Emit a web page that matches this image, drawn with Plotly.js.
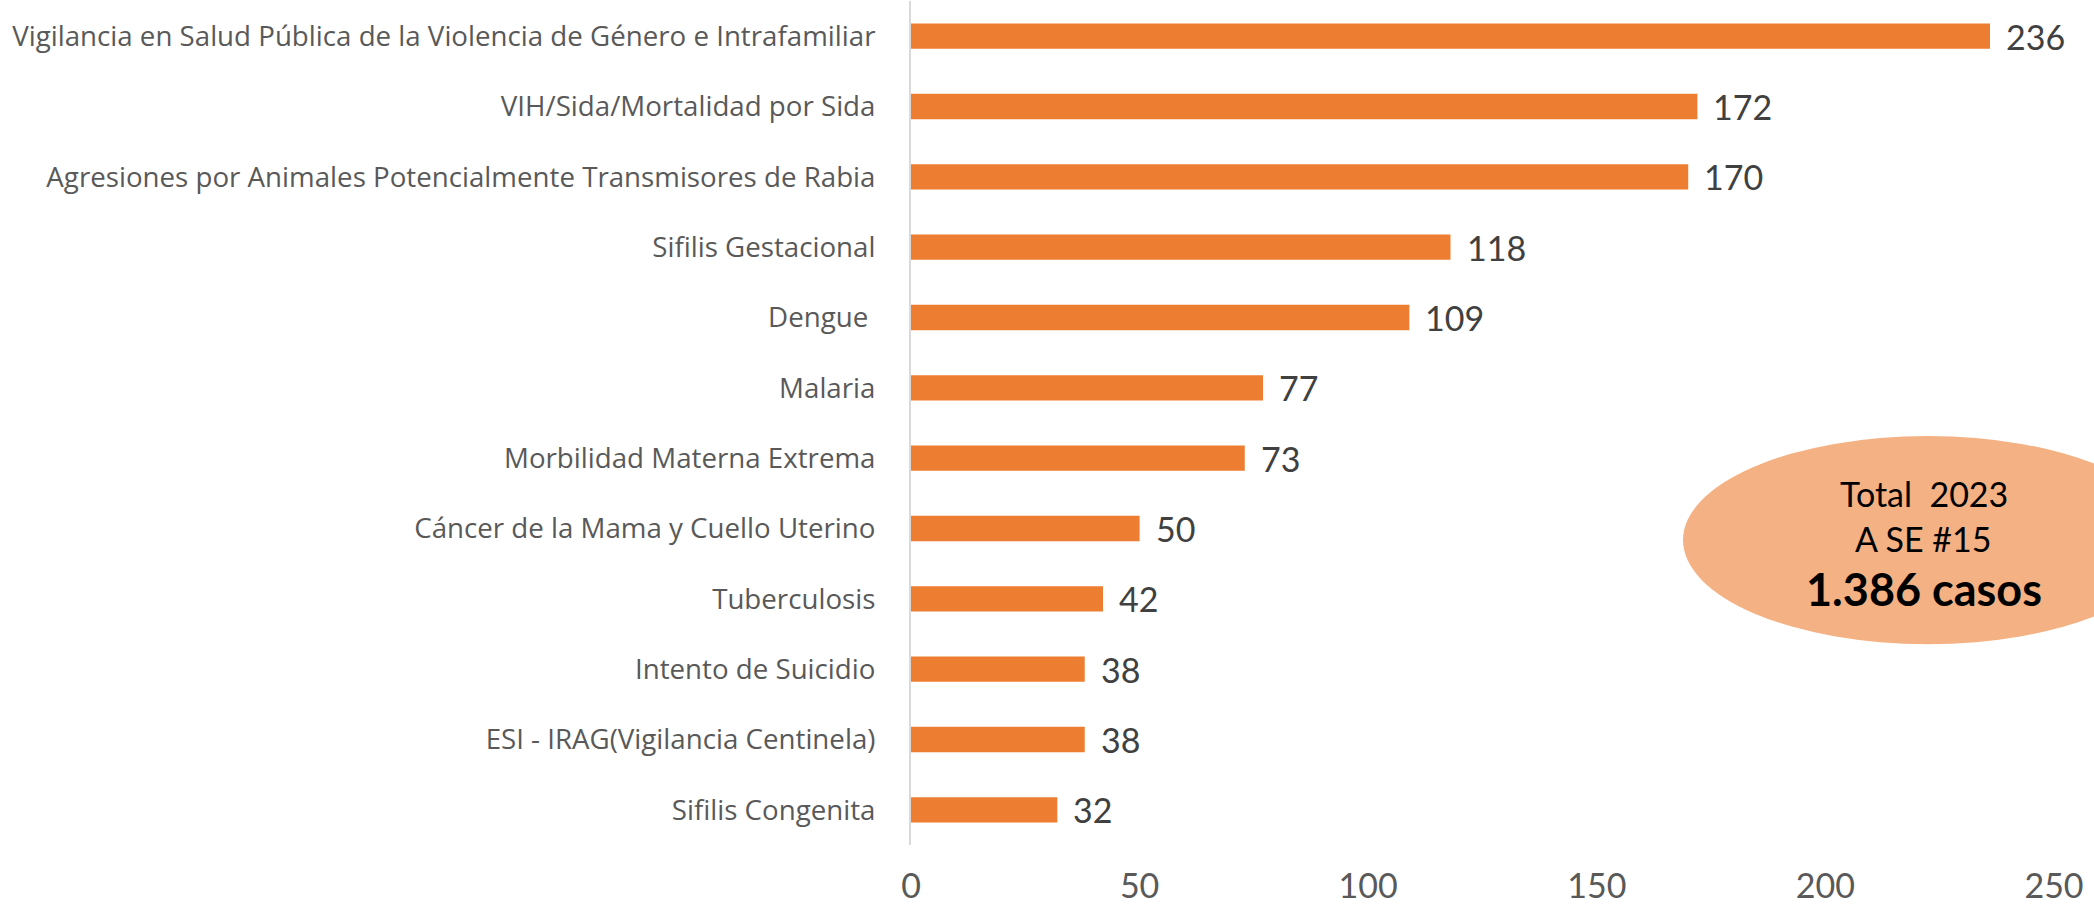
<!DOCTYPE html>
<html>
<head>
<meta charset="utf-8">
<script src="https://cdn.plot.ly/plotly-3.0.1.min.js"></script>
<style>
html,body{margin:0;padding:0;background:#fff;}
#chart{width:2094px;height:907px;}
</style>
</head>
<body>
<div id="chart"></div>
<script>
const categories = [
  "Vigilancia en Salud Pública de la Violencia de Género e Intrafamiliar",
  "VIH/Sida/Mortalidad por Sida",
  "Agresiones por Animales Potencialmente Transmisores de Rabia",
  "Sifilis Gestacional",
  "Dengue\u00a0",
  "Malaria",
  "Morbilidad Materna Extrema",
  "Cáncer de la Mama y Cuello Uterino",
  "Tuberculosis",
  "Intento de Suicidio",
  "ESI - IRAG(Vigilancia Centinela)",
  "Sifilis Congenita"
];
const casos = [236, 172, 170, 118, 109, 77, 73, 50, 42, 38, 38, 32];
const xTicks = [0, 50, 100, 150, 200, 250];
const boxLines = ["Total  2023", "A SE #15", "<b>1.386 casos</b>"];

const FONT = "Lato, 'Open Sans', sans-serif";
const CAT_FONT = "'Open Sans', Lato, sans-serif";

const trace = {
  type: "bar",
  orientation: "h",
  x: casos,
  y: categories,
  width: 0.36,
  marker: {color: "#ED7D31"},
  hoverinfo: "x+y"
};

const valueAnnotations = casos.map((v, i) => ({
  x: v, y: categories[i], xref: "x", yref: "y",
  text: String(v), showarrow: false,
  xanchor: "left", yanchor: "middle", xshift: 14,
  font: {family: FONT, size: 34, color: "#404040"}
}));

const boxY = [0.416, 0.363, 0.303];
const boxSizes = [34, 34, 45];
const boxAnnotations = boxLines.map((t, i) => ({
  x: 0.886, y: boxY[i], xref: "paper", yref: "paper",
  text: t, showarrow: false, xanchor: "center", yanchor: "middle",
  font: {family: FONT, size: boxSizes[i], color: "#000000"}
}));

const layout = {
  width: 2094, height: 907,
  margin: {l: 911, r: 40, t: 1, b: 62, pad: 0},
  paper_bgcolor: "#ffffff",
  plot_bgcolor: "#ffffff",
  showlegend: false,
  font: {family: FONT, color: "#595959"},
  xaxis: {
    range: [0, 250],
    tickvals: xTicks,
    ticktext: xTicks.map(String),
    showgrid: false, zeroline: false, showline: false,
    ticks: "outside", ticklen: 11, tickcolor: "rgba(0,0,0,0)",
    tickfont: {family: FONT, size: 34, color: "#595959"},
    fixedrange: true
  },
  yaxis: {
    autorange: "reversed",
    showgrid: false, zeroline: false,
    showline: true, linecolor: "#D9D9D9", linewidth: 2,
    ticks: "outside", ticklen: 28, tickcolor: "rgba(0,0,0,0)",
    tickfont: {family: CAT_FONT, size: 27.7, color: "#595959"},
    fixedrange: true
  },
  bargap: 0.64,
  shapes: [{
    type: "circle", xref: "paper", yref: "paper",
    x0: 0.6754, x1: 1.104, y0: 0.238, y1: 0.4846,
    fillcolor: "#F4B183", line: {width: 0}, layer: "above"
  }],
  annotations: valueAnnotations.concat(boxAnnotations)
};

Plotly.newPlot("chart", [trace], layout, {displayModeBar: false, staticPlot: true});
</script>
</body>
</html>
